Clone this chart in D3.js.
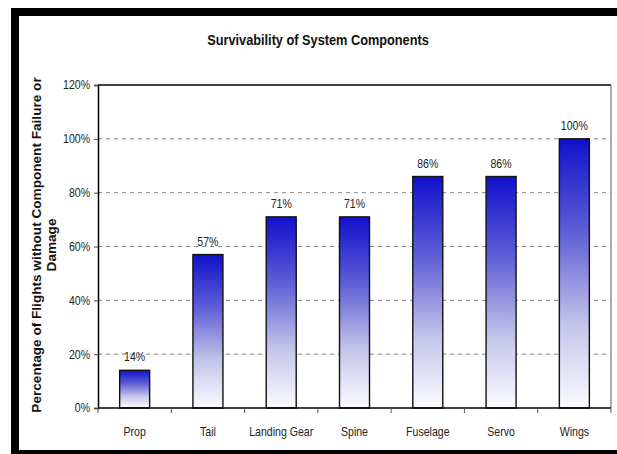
<!DOCTYPE html>
<html>
<head>
<meta charset="utf-8">
<script src="https://cdn.jsdelivr.net/npm/d3@7"></script>
<style>
  body { margin: 0; background: #fff; }
  text { font-family: "Liberation Sans", Arial, sans-serif; }
</style>
</head>
<body>
<svg id="main-svg" width="617" height="454"></svg>
<script>
// ----- //
// data
// ----- //
const components = ["Prop", "Tail", "Landing Gear", "Spine", "Fuselage", "Servo", "Wings"];
const survival = [0.14, 0.57, 0.71, 0.71, 0.86, 0.86, 1.00];
const yTicks = [0, 0.2, 0.4, 0.6, 0.8, 1.0, 1.2];

// ----- //
// layout
// ----- //
const svg = d3.select("#main-svg");
const plot = { left: 98, right: 611, top: 85, bottom: 408 };
const squeeze = 0.88;  // text in the picture is a bit narrow

// frame around the picture
svg.append("rect").attr("x", 11).attr("y", 8).attr("width", 606).attr("height", 8).attr("fill", "#000");
svg.append("rect").attr("x", 11).attr("y", 8).attr("width", 8).attr("height", 446).attr("fill", "#000");
svg.append("rect").attr("x", 11).attr("y", 450).attr("width", 606).attr("height", 4).attr("fill", "#000");

var x = d3.scaleBand().domain(components).range([plot.left, plot.right]).paddingInner(0).paddingOuter(0);
var y = d3.scaleLinear().domain([0, 1.2]).range([plot.bottom, plot.top]);

// gradient for the bars (dark blue at top, near white at bottom)
var grad = svg.append("defs").append("linearGradient")
    .attr("id", "barGrad").attr("x1", 0).attr("y1", 0).attr("x2", 0).attr("y2", 1);
grad.append("stop").attr("offset", "0%").attr("stop-color", "#1010cc");
grad.append("stop").attr("offset", "35%").attr("stop-color", "#5f5fd6");
grad.append("stop").attr("offset", "70%").attr("stop-color", "#c6c6ea");
grad.append("stop").attr("offset", "100%").attr("stop-color", "#fbfbff");

// dashed gridlines
svg.append("g").selectAll("line")
    .data(yTicks.filter(d => d > 0 && d < 1.2))
    .enter().append("line")
    .attr("x1", plot.left).attr("x2", plot.right)
    .attr("y1", d => y(d)).attr("y2", d => y(d))
    .attr("stroke", "#858585").attr("stroke-width", 1)
    .attr("stroke-dasharray", "4,4");

// plot border (top black, right gray)
svg.append("line").attr("x1", plot.left).attr("x2", plot.right).attr("y1", plot.top).attr("y2", plot.top)
    .attr("stroke", "#000").attr("stroke-width", 1.5);
svg.append("line").attr("x1", plot.right).attr("x2", plot.right).attr("y1", plot.top).attr("y2", plot.bottom)
    .attr("stroke", "#777").attr("stroke-width", 1.2);

// bars
var barW = 30;
svg.append("g").selectAll("rect")
    .data(components)
    .enter().append("rect")
    .attr("x", d => x(d) + x.bandwidth() / 2 - barW / 2)
    .attr("y", (d, i) => y(survival[i]))
    .attr("width", barW)
    .attr("height", (d, i) => y(0) - y(survival[i]))
    .attr("fill", "url(#barGrad)")
    .attr("stroke", "#111").attr("stroke-width", 1.4);

// value labels
svg.append("g").selectAll("text")
    .data(components)
    .enter().append("text")
    .attr("transform", (d, i) => `translate(${x(d) + x.bandwidth() / 2},${y(survival[i]) - 9}) scale(${squeeze},1)`)
    .attr("text-anchor", "middle")
    .attr("font-size", 12).attr("fill", "#222")
    .text((d, i) => Math.round(survival[i] * 100) + "%");

// y axis
var yAxis = svg.append("g")
    .attr("transform", `translate(${plot.left},0)`)
    .call(d3.axisLeft(y).tickValues(yTicks).tickSize(4).tickFormat(d3.format(".0%")));
yAxis.select(".domain").attr("stroke", "#000").attr("stroke-width", 1.5);
yAxis.selectAll(".tick line").attr("stroke", "#444");
yAxis.selectAll(".tick text")
    .attr("font-family", "Liberation Sans, Arial, sans-serif")
    .attr("font-size", 12).attr("fill", "#222")
    .attr("x", -9)
    .attr("transform", `scale(${squeeze},1)`);

// x axis (ticks between categories)
var xAxis = svg.append("g").attr("transform", `translate(0,${plot.bottom})`);
xAxis.append("line").attr("x1", plot.left).attr("x2", plot.right).attr("stroke", "#000").attr("stroke-width", 1.5);
xAxis.selectAll(".sep")
    .data(d3.range(components.length + 1))
    .enter().append("line")
    .attr("x1", i => plot.left + i * x.step()).attr("x2", i => plot.left + i * x.step())
    .attr("y1", 0).attr("y2", 5)
    .attr("stroke", "#555");
xAxis.selectAll(".lab")
    .data(components)
    .enter().append("text")
    .attr("transform", d => `translate(${x(d) + x.bandwidth() / 2},28) scale(${squeeze},1)`)
    .attr("text-anchor", "middle")
    .attr("font-size", 12).attr("fill", "#222")
    .text(d => d);

// title
svg.append("text")
    .attr("transform", `translate(318,45) scale(${squeeze},1)`)
    .attr("text-anchor", "middle")
    .attr("font-size", 14.5).attr("font-weight", "bold").attr("fill", "#111")
    .text("Survivability of System Components");

// y axis title (two lines, rotated)
var yTitle = svg.append("text")
    .attr("transform", "translate(41,245) rotate(-90)")
    .attr("text-anchor", "middle")
    .attr("font-size", 13.6).attr("font-weight", "bold").attr("fill", "#111");
yTitle.append("tspan").attr("x", 0).attr("dy", 0).text("Percentage of Flights without Component Failure or");
yTitle.append("tspan").attr("x", 0).attr("dy", 15).text("Damage");
</script>
</body>
</html>
